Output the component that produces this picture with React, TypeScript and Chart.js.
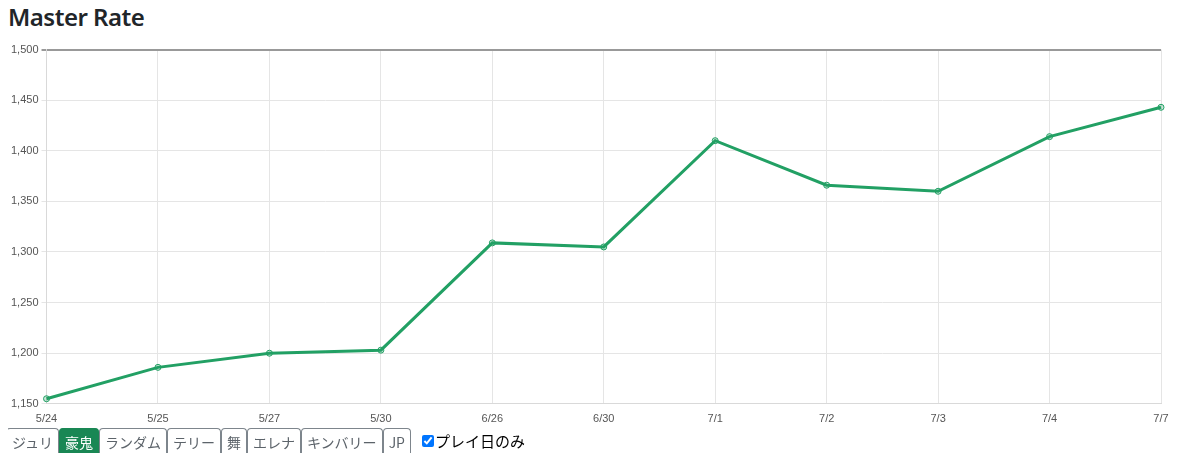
import React, { useEffect, useRef } from "react";
import { Chart, registerables } from "chart.js";

Chart.register(...registerables);

const categories = ["5/24", "5/25", "5/27", "5/30", "6/26", "6/30", "7/1", "7/2", "7/3", "7/4", "7/7"];
const rates = [1155, 1186, 1200, 1203, 1309, 1305, 1410, 1366, 1360, 1414, 1443];
const tabs = ["ジュリ", "豪鬼", "ランダム", "テリー", "舞", "エレナ", "キンバリー", "JP"];
const activeTab = "豪鬼";

const LINE = "rgb(34,160,100)";

export default function App() {
  const ref = useRef<HTMLCanvasElement | null>(null);
  useEffect(() => {
    if (!ref.current) return;
    const chart = new Chart(ref.current, {
      type: "line",
      data: {
        labels: categories,
        datasets: [
          {
            label: "Master Rate",
            data: rates,
            borderColor: LINE,
            backgroundColor: "rgba(34,160,100,0.25)",
            pointBorderColor: LINE,
            pointBackgroundColor: "rgba(34,160,100,0.25)",
            borderWidth: 3,
            pointRadius: 3,
            pointBorderWidth: 1,
            tension: 0,
            fill: false,
          },
        ],
      },
      options: {
        animation: false,
        responsive: false,
        maintainAspectRatio: false,
        layout: { padding: { right: 30, top: 0, left: 0, bottom: 0 } },
        plugins: { legend: { display: false }, tooltip: { enabled: false } },
        scales: {
          x: {
            grid: { color: "#e5e5e5", drawTicks: false },
            border: { color: "#d9d9d9" },
            ticks: { color: "#555", font: { size: 11, family: "Liberation Sans, Arial" }, padding: 9, maxRotation: 0 },
          },
          y: {
            min: 1150,
            max: 1500,
            grid: {
              color: (c: any) => (c.tick && c.tick.value === 1500 ? "#999" : "#e5e5e5"),
              lineWidth: (c: any) => (c.tick && c.tick.value === 1500 ? 2 : 1),
              tickLength: 5,
            },
            border: { color: "#d9d9d9" },
            ticks: {
              stepSize: 50,
              color: "#555",
              font: { size: 11, family: "Liberation Sans, Arial" },
              callback: (v: any) => Number(v).toLocaleString("en-US"),
            },
          },
        },
      },
    });
    return () => chart.destroy();
  }, []);

  return (
    <div style={{ fontFamily: "'Noto Sans', 'Noto Sans CJK JP', sans-serif", color: "#212529" }}>
      <div style={{ fontSize: 24, fontWeight: 600, lineHeight: "30px", height: 38, marginTop: -6, letterSpacing: -0.5 }}>
        Master Rate
      </div>
      <canvas ref={ref} width={1183} height={395} style={{ display: "block" }} />
      <div style={{ display: "flex", alignItems: "flex-start", marginLeft: -2, marginTop: -7 }}>
        {tabs.map((t) => {
          const active = t === activeTab;
          return (
            <div
              key={t}
              style={{
                border: "1px solid #7d858c",
                borderBottom: "none",
                borderRadius: "4px 4px 0 0",
                padding: "0 5px",
                height: 30,
                lineHeight: "26px",
                fontSize: 14,
                fontFamily: "'Noto Sans CJK JP', sans-serif",
                color: active ? "#fff" : "#5c636a",
                background: active ? "#198754" : "#fff",
                borderColor: active ? "#198754" : "#7d858c",
                marginRight: 0,
              }}
            >
              {t}
            </div>
          );
        })}
        <label style={{ fontSize: 15, lineHeight: "26px", marginLeft: 11, fontFamily: "'Noto Sans CJK JP', sans-serif", color: "#000", display: "flex", alignItems: "center" }}>
          <input type="checkbox" defaultChecked style={{ margin: 0, marginRight: 1, width: 12, height: 12 }} />
          プレイ日のみ
        </label>
      </div>
    </div>
  );
}
